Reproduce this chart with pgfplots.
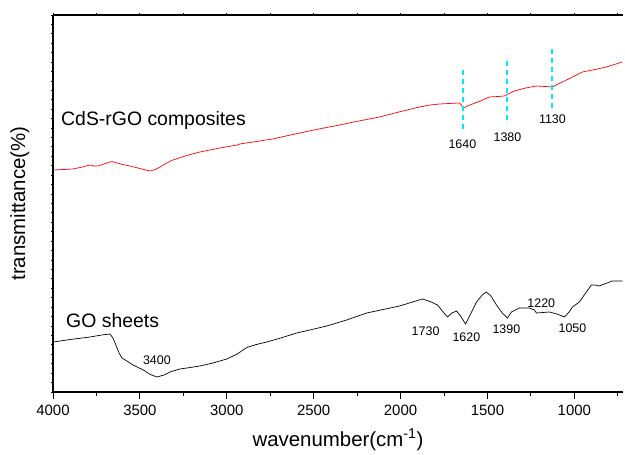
\documentclass[border=0pt]{standalone}
\usepackage{pgfplots}
\pgfplotsset{compat=1.18}
\usepackage{fontspec}
\setmainfont{Liberation Sans}
\definecolor{brightcyan}{RGB}{0,235,245}
\begin{document}
\begin{tikzpicture}
\pgfplotsset{
  base/.style={
    scale only axis, width=570bp, height=377bp,
    xmin=720, xmax=4000, x dir=reverse,
    ymin=0, ymax=377,
    axis line style={line width=1.1pt,-},
  }
}
% main axis with data
\begin{axis}[base, name=ax,
  axis x line*=bottom, axis y line*=left,
  xtick={4000,3500,3000,2500,2000,1500,1000},
  minor xtick={3750,3250,2750,2250,1750,1250,750},
  tick align=outside,
  major tick length=7bp, minor tick length=4bp,
  every tick/.style={black, line width=0.9pt},
  ytick=\empty,
  /pgf/number format/assume math mode=true,
  /pgf/number format/set thousands separator={},
  xticklabel style={font=\fontsize{15}{18}\selectfont, yshift=-3bp},
  xlabel={wavenumber(cm\textsuperscript{-1})},
  ylabel={transmittance(\%)},
  xlabel style={font=\fontsize{20.5}{24}\selectfont, at={(axis description cs:0.5,-0.127)}, anchor=center},
  ylabel style={font=\fontsize{20.5}{24}\selectfont, at={(axis description cs:-0.058,0.5)}, anchor=center},
  clip=false,
]
% CdS-rGO composites
\addplot[red, line width=0.7pt] coordinates {
(4000,222) (3940,222.5) (3885,223) (3830,225) (3787,227) (3765,226) (3741,226) (3700,228.5) (3661,230.5)
(3610,228) (3557,226) (3500,223.5) (3443,221) (3410,222.5) (3385,225) (3350,228.5) (3310,232) (3230,236.5)
(3155,240) (3040,244) (2940,247) (2925,248) (2830,250.5) (2736,253) (2660,256) (2580,259) (2470,263) (2351,267)
(2240,271) (2121,275) (2010,280) (1891,285) (1830,287) (1776,288) (1720,288.5) (1661,289) (1650,287)
(1638,284) (1615,286) (1586,288) (1540,291) (1489,295) (1440,295.5) (1402,296) (1380,298) (1345,301)
(1280,304) (1218,306) (1170,305.5) (1126,305) (1100,307.5) (1069,310) (1010,315) (954,320) (880,322.5)
(816,325) (770,327.5) (724,330)
};
% GO sheets
\addplot[black, line width=0.7pt] coordinates {
(4000,50) (3900,52.5) (3787,55) (3720,57) (3672,58) (3655,54) (3638,47) (3620,39) (3603,34) (3570,30.5)
(3540,27) (3480,22) (3440,17.5) (3402,15) (3360,17) (3320,20.5) (3270,23) (3210,24.5) (3155,26) (3080,29)
(3000,33) (2940,38) (2885,44.5) (2830,47.5) (2770,50) (2690,54) (2598,59) (2510,62.5) (2425,66) (2310,72)
(2195,79) (2100,82.5) (2006,86) (1940,89.5) (1874,93) (1830,90.5) (1787,87) (1755,80) (1730,75)
(1705,79) (1678,81) (1655,76) (1626,68) (1600,77) (1563,90) (1530,97) (1506,100) (1480,96) (1448,87)
(1415,79) (1385,74) (1362,80) (1316,84) (1259,84) (1230,82) (1218,79) (1180,79.5) (1144,80) (1100,78)
(1057,75) (1030,80) (1011,85) (971,90) (935,99) (902,107) (880,107) (856,106) (820,108.5) (782,111)
(750,111) (724,111)
};
% dashed markers
\addplot[brightcyan, line width=2bp, dash pattern=on 5bp off 4bp] coordinates {(1640.7,263) (1640.7,325)};
\addplot[brightcyan, line width=2bp, dash pattern=on 5bp off 4bp] coordinates {(1387.5,272) (1387.5,335)};
\addplot[brightcyan, line width=2bp, dash pattern=on 5bp off 4bp] coordinates {(1128.6,284) (1128.6,347)};
% labels
\node[anchor=west, font=\fontsize{19.5}{23}\selectfont, inner sep=0pt] at (axis cs:3954,272) {CdS-rGO composites};
\node[anchor=west, font=\fontsize{19.5}{23}\selectfont, inner sep=0pt] at (axis cs:3925,71) {GO sheets};
\begin{scope}[every node/.style={font=\fontsize{12.5}{15}\selectfont, inner sep=0pt}]
\node at (axis cs:1644,248) {1640};
\node at (axis cs:1385,255) {1380};
\node at (axis cs:1126,273) {1130};
\node at (axis cs:3402,32) {3400};
\node at (axis cs:1856,61) {1730};
\node at (axis cs:1621,55) {1620};
\node at (axis cs:1391,63) {1390};
\node at (axis cs:1190,89) {1220};
\node at (axis cs:1011,64) {1050};
\end{scope}
\end{axis}
% top axis ticks
\begin{axis}[base,
  axis x line*=top, axis y line=none,
  xtick distance=250, minor x tick num=0,
  tick align=center, major tick length=3bp,
  every tick/.style={black, line width=0.9pt},
  xticklabels={}, ytick=\empty,
]
\end{axis}
% left axis ticks
\begin{axis}[base,
  axis y line*=left, axis x line=none,
  ytick distance=9.425,
  tick align=center, major tick length=3bp,
  every tick/.style={black, line width=0.9pt},
  yticklabels={}, xtick=\empty,
]
\end{axis}
\pgfresetboundingbox
\path ([shift={(-53bp,-63bp)}]ax.south west) rectangle ([shift={(2bp,15bp)}]ax.north east);
\end{tikzpicture}
\end{document}
